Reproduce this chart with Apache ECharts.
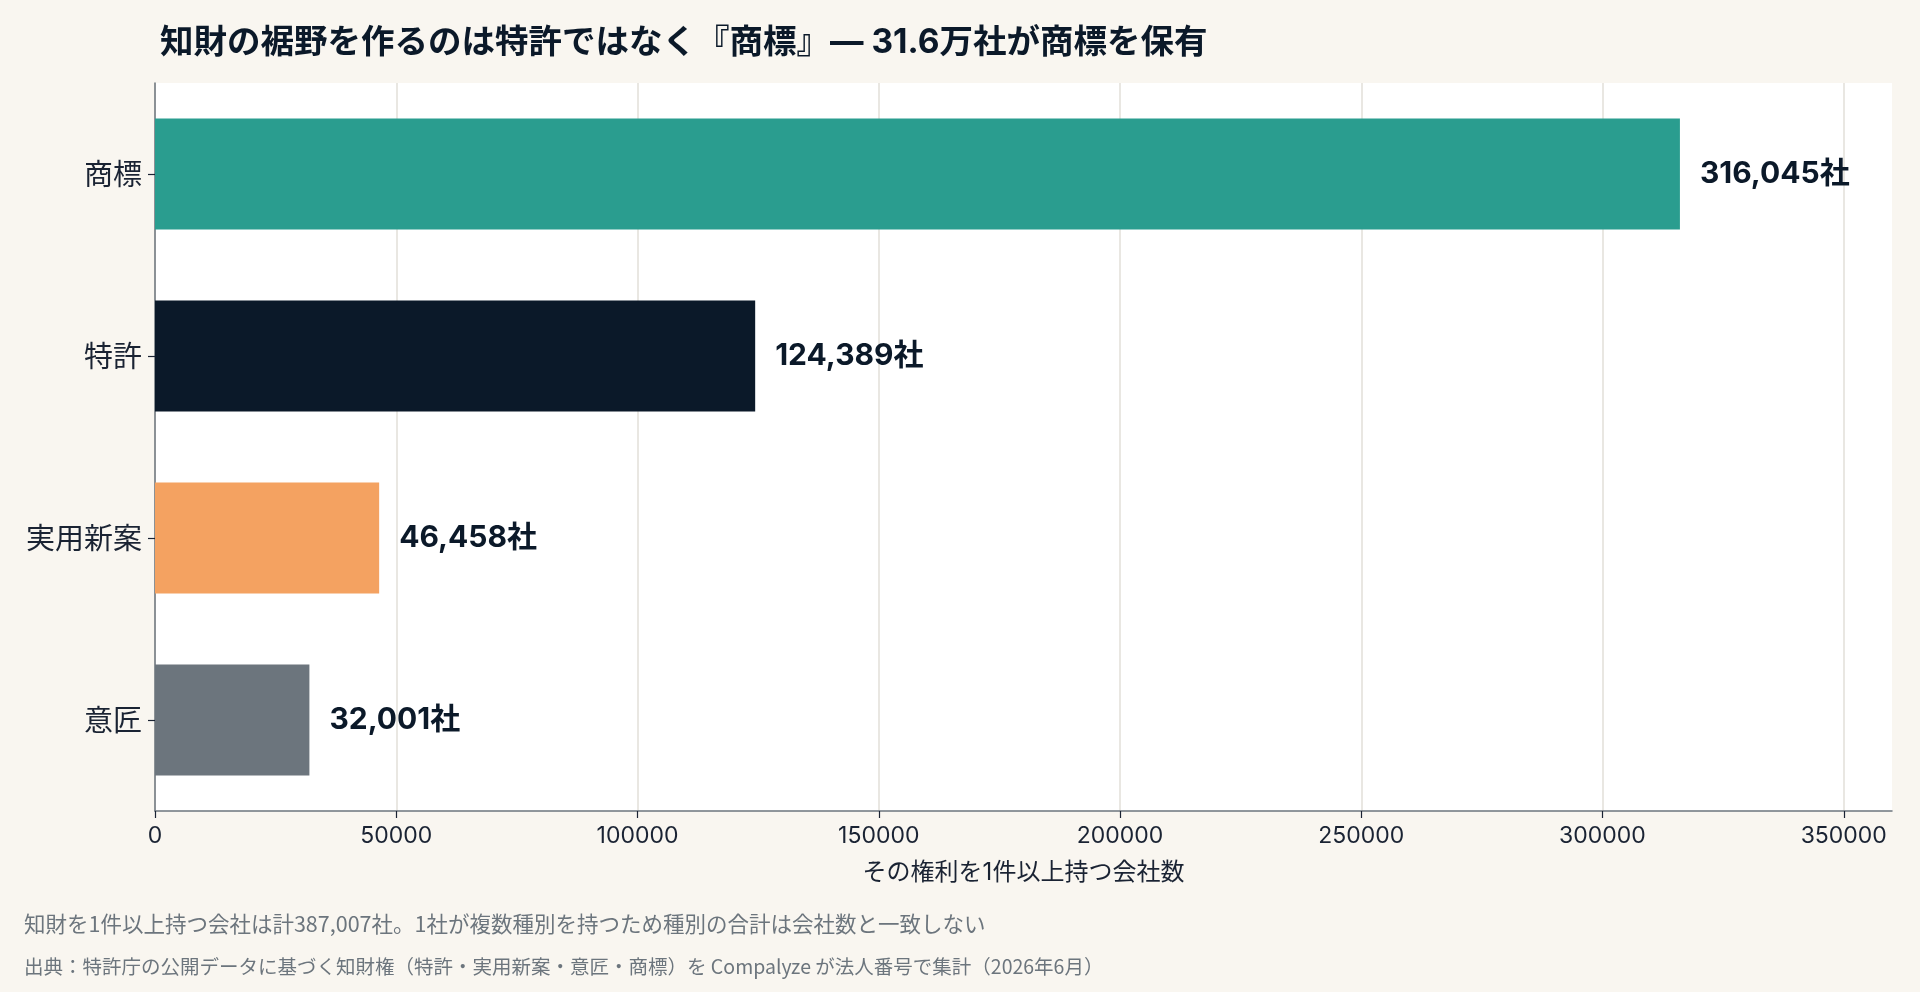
<!DOCTYPE html>
<html lang="ja">
<head>
    <meta charset="UTF-8">
    <title>index</title>
    <script src="https://cdn.jsdelivr.net/npm/echarts@6/dist/echarts.min.js"></script>
    <style>
        html, body { margin: 0; padding: 0; background: #f9f6f0; }
        #main { width: 1920px; height: 992px; }
    </style>
</head>
<body>
<div id="main"></div>

<script type="text/javascript">
    // 知財の種別ごとの保有会社数
    var categories = ['商標', '特許', '実用新案', '意匠'];
    var companyCounts = [316045, 124389, 46458, 32001];
    var barColors = ['#2a9d8f', '#0b1929', '#f4a261', '#6c757d'];
    var xTicks = [0, 50000, 100000, 150000, 200000, 250000, 300000, 350000];

    var titleText = '知財の裾野を作るのは特許ではなく『商標』— 31.6万社が商標を保有';
    var axisName = 'その権利を1件以上持つ会社数';
    var note1 = '知財を1件以上持つ会社は計387,007社。1社が複数種別を持つため種別の合計は会社数と一致しない';
    var note2 = '出典：特許庁の公開データに基づく知財権（特許・実用新案・意匠・商標）を Compalyze が法人番号で集計（2026年6月）';

    var font = '"Noto Sans CJK JP", "Noto Sans", sans-serif';
    var latinFont = 'Inter, "Noto Sans CJK JP", sans-serif';

    var barData = companyCounts.map(function (v, i) {
        return { value: v, itemStyle: { color: barColors[i] } };
    });

    // 右端(max)の線は消す
    var gridColors = xTicks.map(function () { return '#e2dfd8'; });
    gridColors.push('rgba(0,0,0,0)');

    var myChart = echarts.init(document.getElementById('main'));

    var option = {
        backgroundColor: '#f9f6f0',
        textStyle: { fontFamily: font },
        title: {
            text: titleText,
            left: 155,
            top: 21,
            textStyle: { fontSize: 33.5, fontWeight: 'bold', color: '#0b1929', fontFamily: latinFont }
        },
        grid: {
            left: 155,
            right: 28,
            top: 83,
            bottom: 181,
            show: true,
            backgroundColor: '#ffffff',
            borderWidth: 0
        },
        xAxis: {
            type: 'value',
            min: 0,
            max: 360000,
            interval: 50000,
            name: axisName,
            nameLocation: 'middle',
            nameGap: 50,
            nameTextStyle: { fontSize: 24, color: '#1a2333', fontFamily: latinFont },
            axisLine: { show: true, lineStyle: { color: '#6c757d', width: 1.5 } },
            axisTick: { show: true, length: 7, lineStyle: { color: '#1a2333', width: 1.2 } },
            axisLabel: {
                fontSize: 23, color: '#1a2333', margin: 14, showMaxLabel: false,
                fontFamily: latinFont,
                formatter: function (v) { return String(v); }
            },
            splitLine: { show: true, lineStyle: { color: gridColors, width: 1.5 } }
        },
        yAxis: {
            type: 'category',
            data: categories,
            inverse: true,
            axisLine: { show: true, lineStyle: { color: '#6c757d', width: 1.5 } },
            axisTick: { show: true, alignWithLabel: true, length: 7, lineStyle: { color: '#1a2333', width: 1.2 } },
            axisLabel: { fontSize: 29, color: '#1a2333', margin: 13 }
        },
        series: [{
            type: 'bar',
            data: barData,
            barWidth: '61%',
            label: {
                show: true,
                position: 'right',
                distance: 20,
                fontSize: 30,
                fontWeight: 'bold',
                fontFamily: latinFont,
                color: '#0b1929',
                formatter: function (p) {
                    return p.value.toLocaleString('en-US') + '社';
                }
            }
        }],
        graphic: [
            {
                type: 'text',
                left: 24,
                top: 913,
                style: { text: note1, fill: '#6c757d', font: '21.5px ' + font }
            },
            {
                type: 'text',
                left: 24,
                top: 957,
                style: { text: note2, fill: '#6c757d', font: '19.5px ' + font }
            }
        ]
    };

    myChart.setOption(option);
</script>
</body>
</html>
